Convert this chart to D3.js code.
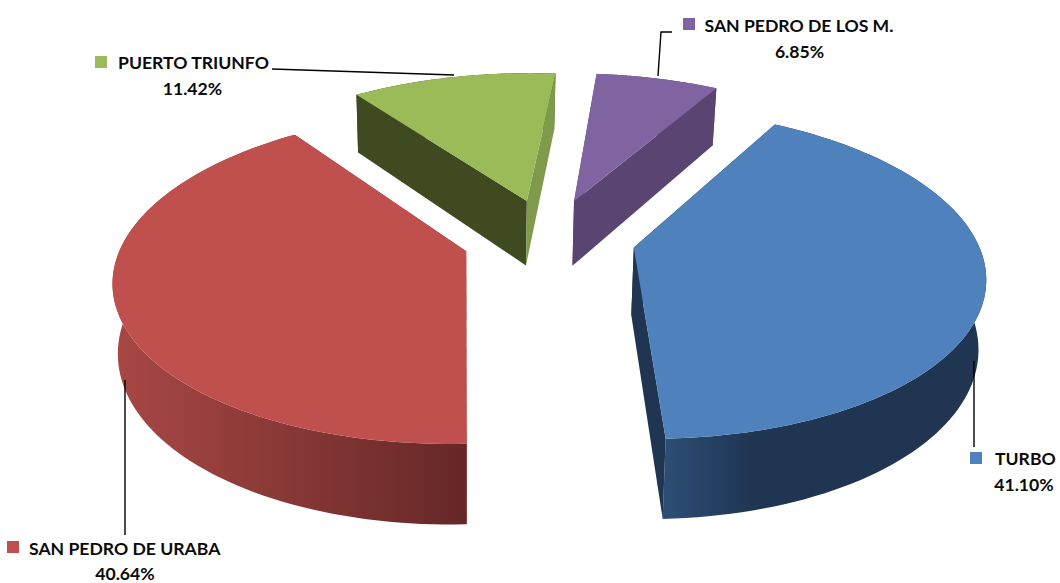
<!DOCTYPE html>
<html><head><meta charset="utf-8">
<style>html,body{margin:0;padding:0;background:#fff}svg{display:block}text{font-family:Lato,"Liberation Sans",sans-serif;font-weight:700;font-size:17.6px;fill:#0a0a0a}</style>
<script src="https://cdnjs.cloudflare.com/ajax/libs/d3/7.8.5/d3.min.js"></script>
</head><body><svg id="c" width="1060" height="583"></svg>
<script>
// Data, in drawing order round the pie (clockwise)
const categories = ["SAN PEDRO DE LOS M.", "TURBO", "SAN PEDRO DE URABA", "PUERTO TRIUNFO"];
const values = [6.85, 41.10, 40.64, 11.42];
const topColors = ["#8064A2", "#4F81BD", "#BF504D", "#9BBB59"];
const startWallColors = ["#5A4572", "#1F3552", "#8A3836", "#404A21"];
const endWallColors = ["#5A4572", "#1F3552", "#8A3836", "#7F9A4A"];
const rimStops = [["#5A4572", "#5A4572"], ["#2D4E75", "#1F3552"], ["#A84744", "#652827"], ["#404A21", "#404A21"]];
// Projection / layout settings
const cx = 549, cy = 238, R = 342.5, persp = 0.000454, squash = 0.462, depth = 67, explode = 86.5, firstAngle = 5.15 * Math.PI / 180, baseShrink = 0.985, shrinkX = 467;

const svg = d3.select("#c"), defs = svg.append("defs");
const arcs = d3.pie().sort(null).value(d => d).startAngle(firstAngle).endAngle(firstAngle + 2 * Math.PI)(values);
const rScale = d3.scaleLinear().domain([0, 1]).range([0, R]);

function project(a, r, d, lower) {
  const mid = (d.startAngle + d.endAngle) / 2;
  const X = explode * Math.sin(mid) + rScale(r) * Math.sin(a);
  const Y = explode * Math.cos(mid) + rScale(r) * Math.cos(a);
  const w = 1 + persp * Y;
  const x = cx + X / w, y = -squash * Y / w;
  return lower ? [shrinkX + (x - shrinkX) * baseShrink, cy + y + depth / w] : [x, cy + y];
}
const line = d3.line();
const rimPts = (d, lower) => d3.range(0, 1.0001, 1 / 90).map(t => project(d.startAngle + t * (d.endAngle - d.startAngle), 1, d, lower));

arcs.forEach((d, i) => {
  const g = svg.append("g");
  const apex = project(0, 0, d, false), apexL = project(0, 0, d, true);
  const top = rimPts(d, false), low = rimPts(d, true);
  const s = top[0], sL = low[0], e = top[top.length - 1], eL = low[low.length - 1];
  // rim gradient runs across the visible front of the slice
  let xs = d3.extent(low, p => p[0]);
  if (i === 1) xs = [664, 755];
  if (i === 2) xs = [118, 467];
  const id = "rim" + i;
  const lg = defs.append("linearGradient").attr("id", id).attr("gradientUnits", "userSpaceOnUse").attr("x1", xs[0]).attr("x2", xs[1]).attr("y1", 0).attr("y2", 0);
  lg.append("stop").attr("offset", 0).attr("stop-color", rimStops[i][0]);
  lg.append("stop").attr("offset", 1).attr("stop-color", rimStops[i][1]);
  g.append("path").attr("d", line(top.concat(low.slice().reverse())) + "Z").attr("fill", `url(#${id})`);
  g.append("path").attr("d", line([apex, s, sL, apexL]) + "Z").attr("fill", startWallColors[i]);
  g.append("path").attr("d", line([apex, e, eL, apexL]) + "Z").attr("fill", endWallColors[i]);
  g.append("path").attr("d", line([apex].concat(top)) + "Z").attr("fill", topColors[i]);
});

// Leader lines and labels
const leaderPaths = [
  [[658, 76], [661, 32], [672, 32]],
  [[974, 361], [974, 447]],
  [[125, 380], [125, 535]],
  [[272, 69], [454, 75]]
];
const labelBoxes = [[683, 18], [970, 452], [7, 541], [95, 56]];
const nameX = [704.5, 995, 29, 118], nameY = [32, 465, 555, 69], pctX = [799.5, 1024, 125, 192.5], pctY = [58, 491, 580, 95];
const pctFmt = d3.format(".2f");
categories.forEach((c, i) => {
  svg.append("path").attr("d", line(leaderPaths[i])).attr("fill", "none").attr("stroke", "#000").attr("stroke-width", 1.4);
  svg.append("rect").attr("x", labelBoxes[i][0]).attr("y", labelBoxes[i][1]).attr("width", 12).attr("height", 12).attr("fill", topColors[i]);
  svg.append("text").attr("x", nameX[i]).attr("y", nameY[i]).text(c);
  svg.append("text").attr("x", pctX[i]).attr("y", pctY[i]).attr("text-anchor", "middle").text(pctFmt(values[i]) + "%");
});
</script></body></html>
